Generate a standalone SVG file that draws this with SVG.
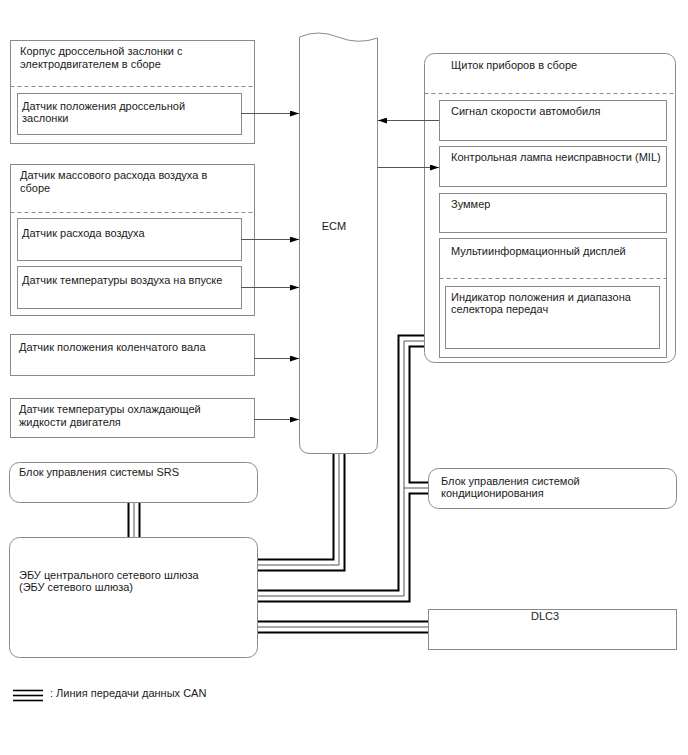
<svg xmlns="http://www.w3.org/2000/svg" width="688" height="755" viewBox="0 0 688 755">
<defs>
<style>
.box{fill:#fff;stroke:#8a8a8a;stroke-width:1}
.dash{fill:none;stroke:#8a8a8a;stroke-width:1;stroke-dasharray:4 3}
.t{font-family:"Liberation Sans",Arial,sans-serif;font-size:11px;fill:#1a1a1a}
.arr{fill:none;stroke:#555;stroke-width:1;marker-end:url(#ah)}
.cb{fill:none;stroke:#000;stroke-width:13;stroke-linejoin:miter}
.cw{fill:none;stroke:#fff;stroke-width:9;stroke-linejoin:miter}
.cc{fill:none;stroke:#555;stroke-width:1;stroke-linejoin:miter}
</style>
<marker id="ah" markerWidth="9" markerHeight="6" refX="9" refY="3" orient="auto" markerUnits="userSpaceOnUse">
<path d="M0,0 L9,3 L0,6 z" fill="#000"/>
</marker>
</defs>
<rect width="688" height="755" fill="#fff"/>

<g id="throttle-body">
<rect class="box" x="10.5" y="40.5" width="244" height="103"/>
<line class="dash" x1="10.5" y1="86.5" x2="254.5" y2="86.5"/>
<text class="t" x="20" y="55">Корпус дроссельной заслонки с</text>
<text class="t" x="20" y="68">электродвигателем в сборе</text>
<g id="throttle-sensor">
<rect class="box" x="17.5" y="93.5" width="224" height="41"/>
<text class="t" x="22" y="110">Датчик положения дроссельной</text>
<text class="t" x="22" y="122">заслонки</text>
</g>
</g>

<g id="maf-assembly">
<rect class="box" x="10.5" y="164.5" width="244" height="151"/>
<line class="dash" x1="10.5" y1="212.5" x2="254.5" y2="212.5"/>
<text class="t" x="20" y="179">Датчик массового расхода воздуха в</text>
<text class="t" x="20" y="192">сборе</text>
<g id="maf-sensor">
<rect class="box" x="17.5" y="218.5" width="224" height="42"/>
<text class="t" x="22" y="237">Датчик расхода воздуха</text>
</g>
<g id="iat-sensor">
<rect class="box" x="17.5" y="266.5" width="224" height="42"/>
<text class="t" x="22" y="284">Датчик температуры воздуха на впуске</text>
</g>
</g>

<g id="crank-sensor">
<rect class="box" x="10.5" y="334.5" width="244" height="41"/>
<text class="t" x="19" y="351">Датчик положения коленчатого вала</text>
</g>

<g id="ect-sensor">
<rect class="box" x="10.5" y="398.5" width="244" height="39"/>
<text class="t" x="19" y="413">Датчик температуры охлаждающей</text>
<text class="t" x="19" y="426">жидкости двигателя</text>
</g>

<g id="ecm">
<path class="box" d="M299.5,37 Q318,29 338,37 T377.5,38 L377.5,443 Q377.5,453.5 367,453.5 L310,453.5 Q299.5,453.5 299.5,443 Z"/>
<text class="t" x="334" y="230" text-anchor="middle">ECM</text>
</g>

<g id="combination-meter">
<rect class="box" x="424.5" y="53.5" width="251" height="309" rx="10" ry="10"/>
<line class="dash" x1="424.5" y1="93.5" x2="675.5" y2="93.5"/>
<text class="t" x="451" y="69">Щиток приборов в сборе</text>
<g id="speed-signal">
<rect class="box" x="439.5" y="100.5" width="227" height="40"/>
<text class="t" x="451" y="115">Сигнал скорости автомобиля</text>
</g>
<g id="mil">
<rect class="box" x="439.5" y="146.5" width="227" height="40"/>
<text class="t" x="451" y="161">Контрольная лампа неисправности (MIL)</text>
</g>
<g id="buzzer">
<rect class="box" x="439.5" y="193.5" width="227" height="39"/>
<text class="t" x="451" y="208">Зуммер</text>
</g>
<g id="multi-display">
<rect class="box" x="439.5" y="238.5" width="227" height="119"/>
<line class="dash" x1="439.5" y1="278.5" x2="666.5" y2="278.5"/>
<text class="t" x="451" y="255">Мультиинформационный дисплей</text>
<g id="shift-indicator">
<rect class="box" x="445.5" y="286.5" width="214" height="62"/>
<text class="t" x="451" y="301">Индикатор положения и диапазона</text>
<text class="t" x="451" y="313">селектора передач</text>
</g>
</g>
</g>

<g id="srs">
<rect class="box" x="9.5" y="462.5" width="248" height="40" rx="10" ry="10"/>
<text class="t" x="19" y="476">Блок управления системы SRS</text>
</g>

<g id="gateway">
<rect class="box" x="9.5" y="537.5" width="248" height="120" rx="10" ry="10"/>
<text class="t" x="19" y="579">ЭБУ центрального сетевого шлюза</text>
<text class="t" x="19" y="591">(ЭБУ сетевого шлюза)</text>
</g>

<g id="ac">
<rect class="box" x="428.5" y="468.5" width="248" height="40" rx="10" ry="10"/>
<text class="t" x="441" y="485">Блок управления системой</text>
<text class="t" x="441" y="497">кондиционирования</text>
</g>

<g id="dlc3">
<rect class="box" x="428.5" y="609.5" width="248" height="40"/>
<text class="t" x="545" y="620" text-anchor="middle">DLC3</text>
</g>

<g id="connectors">
<line class="arr" x1="241" y1="113.5" x2="299" y2="113.5"/>
<line class="arr" x1="241" y1="239.5" x2="299" y2="239.5"/>
<line class="arr" x1="241" y1="287.5" x2="299" y2="287.5"/>
<line class="arr" x1="254" y1="358.5" x2="299" y2="358.5"/>
<line class="arr" x1="254" y1="419.5" x2="299" y2="419.5"/>
<line class="arr" x1="439" y1="120.5" x2="378" y2="120.5"/>
<line class="arr" x1="378" y1="167.5" x2="439" y2="167.5"/>

<g id="can-lines">
<path class="cb" d="M339,454 V565 H258"/>
<path class="cb" d="M258,596 H404 V341 H424"/>
<path class="cb" d="M404,488 H428"/>
<path class="cb" d="M258,627 H428"/>
<path class="cb" d="M134,503 V537"/>
<path class="cw" d="M339,454 V565 H258"/>
<path class="cw" d="M258,596 H404 V341 H424"/>
<path class="cw" d="M404,488 H428"/>
<path class="cw" d="M258,627 H428"/>
<path class="cw" d="M134,503 V537"/>
<path class="cc" d="M339,454 V565 H258"/>
<path class="cc" d="M258,596 H404 V341 H424"/>
<path class="cc" d="M404,488 H428"/>
<path class="cc" d="M258,627 H428"/>
<path class="cc" d="M134,503 V537"/>
</g>
</g>

<g id="legend">
<line x1="13" y1="690.5" x2="43" y2="690.5" stroke="#000" stroke-width="1.6"/>
<line x1="13" y1="695.5" x2="43" y2="695.5" stroke="#000" stroke-width="1.6"/>
<line x1="13" y1="700.5" x2="43" y2="700.5" stroke="#000" stroke-width="1.6"/>
<text class="t" x="50" y="697">: Линия передачи данных CAN</text>
</g>
</svg>
